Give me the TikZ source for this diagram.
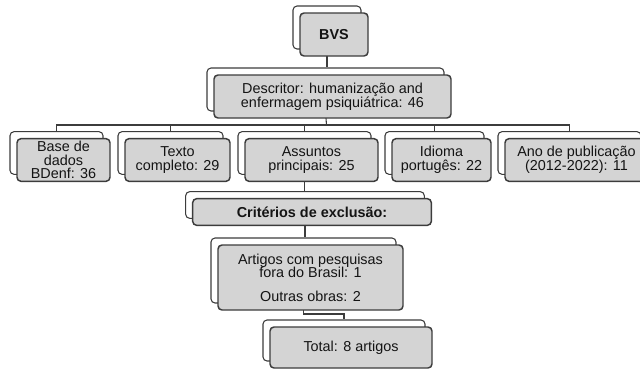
\documentclass[tikz,border=0pt]{standalone}
\usepackage{fontspec}
\setmainfont{Liberation Sans}
\usetikzlibrary{backgrounds}
\definecolor{boxgray}{RGB}{212,212,212}
\definecolor{linegray}{RGB}{60,60,60}

\begin{document}
\begin{tikzpicture}[x=0.75pt,y=-0.75pt,
  back/.style={draw=linegray,fill=white,rounded corners=3pt,line width=0.8pt,inner sep=0pt},
  front/.style={draw=linegray,fill=boxgray,rounded corners=3pt,line width=1.1pt,inner sep=0pt,
    align=center,text=black!92,font=\fontsize{10.8}{10.3}\selectfont},
  link/.style={draw=linegray,line width=0.8pt}]
\useasboundingbox (0,0) rectangle (640,371);
% boxes: name/x/y/width/height/text
\foreach \n/\x/\y/\w/\h/\t in {
  bvs/334/34.5/51/32.25/{\textbf{BVS}},
  desc/332.5/96.5/177.75/32.25/{Descritor: humanização and\\enfermagem psiquiátrica: 46},
  base/63.5/160/69.75/32/{Base de\\dados\\BDenf: 36},
  texto/177.5/160/78.75/32/{Texto\\completo: 29},
  assun/311.5/160/99.75/32/{Assuntos\\principais: 25},
  idioma/441.5/160/74.25/32/{Idioma\\portugês: 22},
  ano/576.5/160/107.25/32/{Ano de publicação\\(2012-2022): 11},
  crit/312/212/179/20/{\textbf{Critérios de exclusão:}},
  art/310.5/277.5/138.75/48.75/{Artigos com pesquisas\\fora do Brasil: 1\\[7pt]Outras obras: 2},
  tot/351/347.5/121.5/30.75/{Total: 8 artigos}}{
  \node[back,minimum width=\w pt,minimum height=\h pt] (\n-b) at (\x-7,\y-7) {};
  \node[front,minimum width=\w pt,minimum height=\h pt] (\n) at (\x,\y) {\t};
}
\begin{scope}[on background layer]
\coordinate (bus) at (326.5,125);
\coordinate (elb) at (325,314);
\draw[link] (bvs-b.south) -- (bvs-b.south |- desc-b.north);
\draw[link] (desc-b.south) -- (bus);
\foreach \m in {base,texto,assun,idioma,ano}
  \draw[link] (bus) -| (\m-b.north);
\draw[link] (assun-b.south) -- (assun-b.south |- crit-b.north);
\draw[link] (crit-b.south) -- (crit-b.south |- art-b.north);
\draw[link] (art-b.south) |- (elb) -| (tot-b.north);
\end{scope}
\end{tikzpicture}
\end{document}
